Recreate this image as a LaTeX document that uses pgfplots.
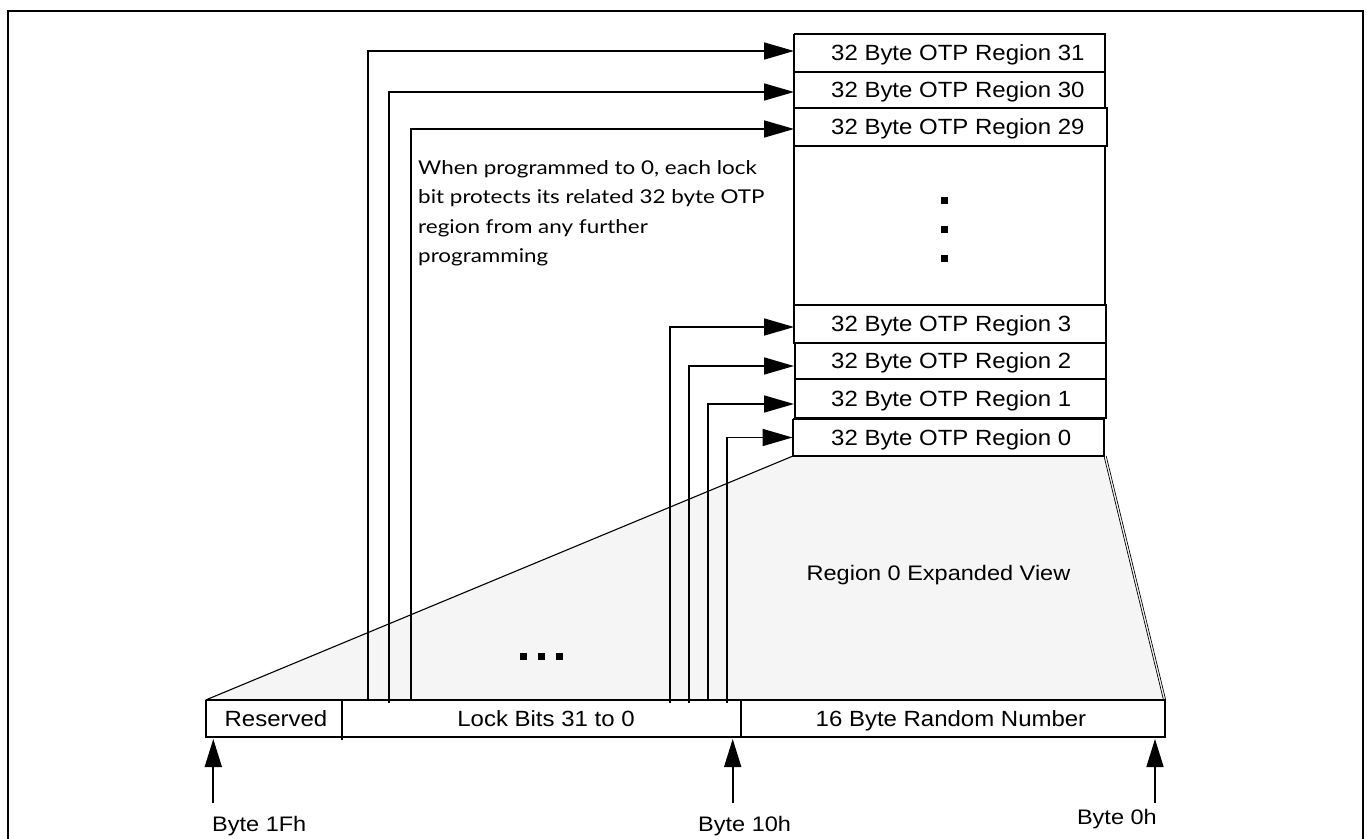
\documentclass[border=0pt]{standalone}
\usepackage{fontspec}
\setmainfont{Liberation Sans}
\newfontfamily\boxfont[FakeStretch=1.09]{Liberation Sans}
\newfontfamily\labfont[FakeStretch=1.12]{Liberation Sans}
\newfontfamily\notefont[FakeStretch=1.18]{Lato}
\usepackage{pgfplots}
\pgfplotsset{compat=1.18}
\usetikzlibrary{arrows.meta}
\definecolor{fillgray}{RGB}{245,245,245}
\newcommand{\bfs}{\boxfont\fontsize{22bp}{26bp}\selectfont}
\newcommand{\lfs}{\labfont\fontsize{21bp}{25bp}\selectfont}
\newcommand{\nfs}{\notefont\fontsize{19bp}{29.5bp}\selectfont}
\begin{document}
\begin{tikzpicture}
\begin{axis}[hide axis, scale only axis, width=1367bp, height=839bp,
  xmin=0, xmax=1367, ymin=0, ymax=839, y dir=reverse, clip=false]
% expanded view fill
\addplot[fill=fillgray, draw=none] coordinates {(793,456) (1105,456) (1165,700) (205.7,700) (793,456)};
% left edge
\addplot[black, line width=1.1bp] coordinates {(793,456) (205.7,700)};
% right edge (double)
\addplot[black, line width=0.7bp] coordinates {(1104,456) (1163.5,700)};
\addplot[black, line width=0.7bp] coordinates {(1106.2,456) (1165.7,700)};
% outer frame
\addplot[black, line width=2.2bp] coordinates {(8,845) (8,11) (1363,11) (1363,845)};
% OTP region boxes
\addplot[black, line width=2bp] coordinates {(794,34) (1105,34) (1105,72) (794,72) (794,34)};
\addplot[black, line width=2bp] coordinates {(794,72) (1105,72) (1105,108) (794,108) (794,72)};
\addplot[black, line width=2bp] coordinates {(794,108) (1106.5,108) (1106.5,146) (794,146) (794,108)};
\addplot[black, line width=2bp] coordinates {(794,146) (1105,146) (1105,305) (794,305) (794,146)};
\addplot[black, line width=2bp] coordinates {(793.5,305) (1105.5,305) (1105.5,342.5) (793.5,342.5) (793.5,305)};
\addplot[black, line width=2bp] coordinates {(795,342.5) (1105.5,342.5) (1105.5,379) (795,379) (795,342.5)};
\addplot[black, line width=2bp] coordinates {(795,379) (1105.5,379) (1105.5,418) (795,418) (795,379)};
\addplot[black, line width=2bp] coordinates {(793,418.5) (1104,418.5) (1104,456) (793,456) (793,418.5)};
% bottom row
\addplot[black, line width=2.2bp] coordinates {(205.7,700) (1165,700) (1165,737.3) (205.7,737.3) (205.7,700)};
\addplot[black, line width=2bp] coordinates {(342,700) (342,739.5)};
\addplot[black, line width=2bp] coordinates {(741,701) (741,737.3)};
% connectors with arrows
\addplot[black, line width=1.7bp, -{Triangle[length=30bp,width=17bp]}] coordinates {(368,700) (368,51) (794,51)};
\addplot[black, line width=1.7bp, -{Triangle[length=30bp,width=17bp]}] coordinates {(389,703) (389,92) (794,92)};
\addplot[black, line width=1.7bp, -{Triangle[length=30bp,width=17bp]}] coordinates {(411,700) (411,129) (794,129)};
\addplot[black, line width=1.7bp, -{Triangle[length=30bp,width=17bp]}] coordinates {(670,703) (670,327) (794,327)};
\addplot[black, line width=1.7bp, -{Triangle[length=30bp,width=17bp]}] coordinates {(689,703) (689,366) (794,366)};
\addplot[black, line width=1.7bp, -{Triangle[length=30bp,width=17bp]}] coordinates {(708,701) (708,404) (794,404)};
\addplot[black, line width=1.7bp, -{Triangle[length=30bp,width=17bp]}] coordinates {(726.7,703) (726.7,437.5) (792.5,437.5)};
% byte pointers
\addplot[black, line width=1.7bp, -{Triangle[length=28bp,width=17bp]}] coordinates {(213.3,803) (213.3,739)};
\addplot[black, line width=1.7bp, -{Triangle[length=28bp,width=17bp]}] coordinates {(732.7,803) (732.7,739)};
\addplot[black, line width=1.7bp, -{Triangle[length=28bp,width=17bp]}] coordinates {(1155,803) (1155,739)};
% dots
\addplot[only marks, mark=square*, mark size=2.8bp, black] coordinates {(944,200) (944,229) (944,258)};
\addplot[only marks, mark=square*, mark size=3.2bp, black] coordinates {(523,656) (541,656) (559,656)};
% texts
\node[anchor=base west, inner sep=0] at (axis cs:831,60.5) {\bfs 32 Byte OTP Region 31};
\node[anchor=base west, inner sep=0] at (axis cs:831,97.5) {\bfs 32 Byte OTP Region 30};
\node[anchor=base west, inner sep=0] at (axis cs:831,134.5) {\bfs 32 Byte OTP Region 29};
\node[anchor=base west, inner sep=0] at (axis cs:831,331) {\bfs 32 Byte OTP Region 3};
\node[anchor=base west, inner sep=0] at (axis cs:831,368.5) {\bfs 32 Byte OTP Region 2};
\node[anchor=base west, inner sep=0] at (axis cs:831,406) {\bfs 32 Byte OTP Region 1};
\node[anchor=base west, inner sep=0] at (axis cs:831,445) {\bfs 32 Byte OTP Region 0};
\node[anchor=base, inner sep=0] at (axis cs:276,726) {\bfs Reserved};
\node[anchor=base, inner sep=0] at (axis cs:546,726) {\bfs Lock Bits 31 to 0};
\node[anchor=base, inner sep=0] at (axis cs:951,726) {\bfs 16 Byte Random Number};
\node[anchor=base, inner sep=0] at (axis cs:938.5,580) {\lfs Region 0 Expanded View};
\node[anchor=base west, inner sep=0] at (axis cs:212,831) {\lfs Byte 1Fh};
\node[anchor=base west, inner sep=0] at (axis cs:698,831) {\lfs Byte 10h};
\node[anchor=base east, inner sep=0] at (axis cs:1157,824) {\lfs Byte 0h};
\node[anchor=base west, inner sep=0] at (axis cs:418,174) {\nfs When programmed to 0, each lock};
\node[anchor=base west, inner sep=0] at (axis cs:418,203.5) {\nfs bit protects its related 32 byte OTP};
\node[anchor=base west, inner sep=0] at (axis cs:418,233) {\nfs region from any further};
\node[anchor=base west, inner sep=0] at (axis cs:418,262.5) {\nfs programming};
\end{axis}
\pgfresetboundingbox
\path[use as bounding box] (0,0) rectangle (1367bp,839bp);
\end{tikzpicture}
\end{document}
